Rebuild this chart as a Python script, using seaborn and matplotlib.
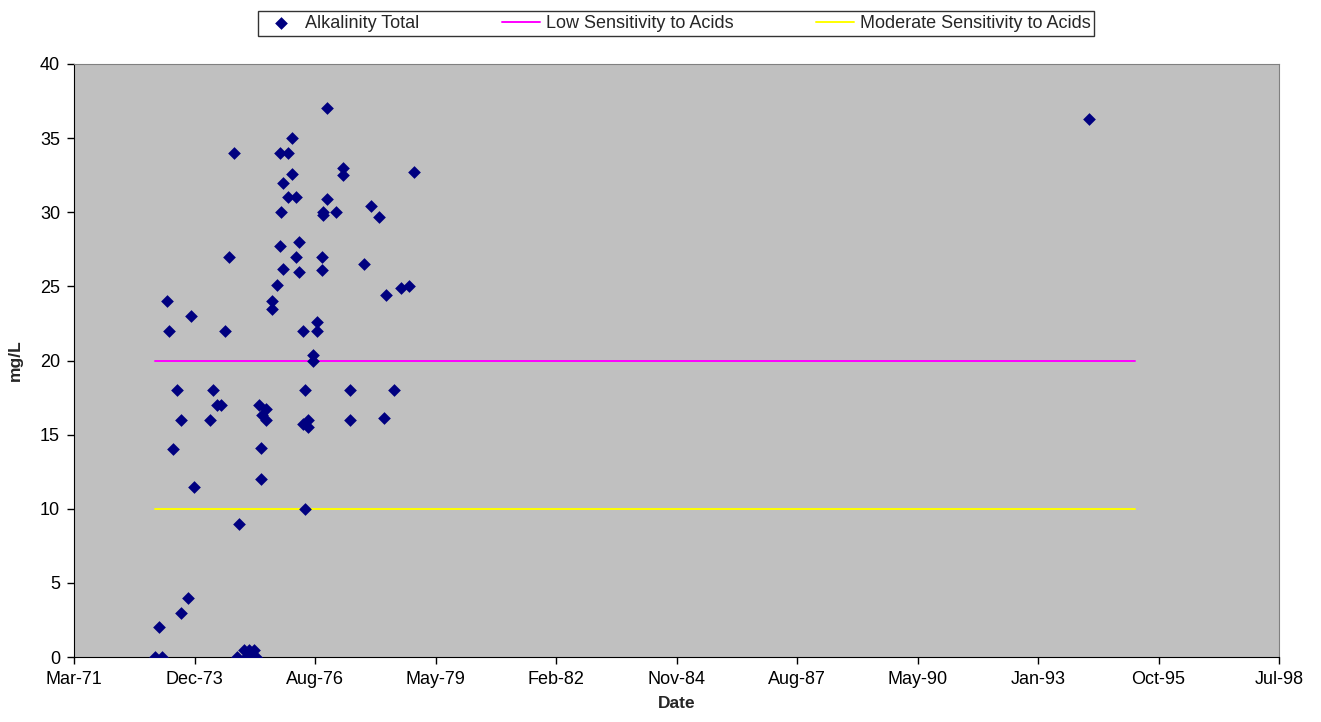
import pandas as pd
import numpy as np
import seaborn as sns
import matplotlib.pyplot as plt
import matplotlib.dates as mdates
from matplotlib.ticker import FixedLocator

# sample dates and total alkalinity (mg/L)
dates = ["1973-01-08", "1973-03-07", "1973-02-10", "1973-04-18", "1973-05-04",
         "1973-06-07", "1973-07-10", "1973-08-12", "1973-08-12", "1973-10-09",
         "1973-11-03", "1973-11-28", "1974-04-10", "1974-05-05", "1974-06-07",
         "1974-07-10", "1974-08-12", "1974-09-14", "1974-10-26", "1974-11-20",
         "1974-12-06", "1975-01-17", "1975-02-27", "1975-04-10", "1975-02-02",
         "1975-03-16", "1975-04-26", "1975-05-21", "1975-07-18", "1975-06-15",
         "1975-07-18", "1975-06-07", "1975-06-07", "1975-09-06", "1975-09-06",
         "1975-10-18", "1975-11-12", "1975-11-20", "1975-11-12", "1975-12-07",
         "1975-12-07", "1976-01-17", "1976-01-17", "1976-02-19", "1976-02-19",
         "1976-03-23", "1976-03-23", "1976-04-17", "1976-04-17", "1976-05-20",
         "1976-06-06", "1976-05-20", "1976-06-06", "1976-07-01", "1976-07-01",
         "1976-08-11", "1976-08-11", "1976-09-14", "1976-09-14", "1976-10-25",
         "1976-10-25", "1976-11-02", "1976-11-02", "1976-12-06", "1976-12-06",
         "1977-02-18", "1977-04-17", "1977-04-17", "1977-06-15", "1977-06-15",
         "1977-10-09", "1977-12-06", "1978-02-10", "1978-03-24", "1978-04-09",
         "1978-06-15", "1978-08-12", "1978-10-17", "1978-11-28", "1994-03-30"]
alkalinity = [0, 0, 2, 24, 22,
              14, 18, 16, 3, 4,
              23, 11.5, 16, 18, 17,
              17, 22, 27, 34, 0,
              9, 0.5, 0.5, 0.5, 0,
              0, 0, 17, 16.7, 16.3,
              16, 14.1, 12, 24, 23.5,
              25.1, 27.7, 30, 34, 32,
              26.2, 34, 31, 35, 32.6,
              31, 27, 28, 26, 22,
              18, 15.75, 10, 16, 15.5,
              20.4, 20, 22, 22.6, 27,
              26.1, 30, 29.8, 37, 30.9,
              30, 33, 32.5, 18, 16,
              26.5, 30.4, 29.7, 16.1, 24.4,
              18, 24.9, 25, 32.7, 36.3]

line_dates = ["1973-01-08", "1995-04-16"]
low_sens = [20, 20]
mod_sens = [10, 10]

x_ticks = pd.date_range("1971-03-08", periods=11, freq="1000D")

df = pd.DataFrame({"Date": pd.to_datetime(dates), "Alkalinity": alkalinity})
lines = pd.DataFrame({"Date": pd.to_datetime(line_dates),
                      "Low": low_sens, "Moderate": mod_sens})

sns.set_style("ticks")
plt.rcParams["font.family"] = ["Liberation Sans", "DejaVu Sans"]

fig = plt.figure(figsize=(13.21, 7.22), dpi=100)
ax = fig.add_axes([74 / 1321, 65 / 722, 1205 / 1321, 593 / 722])
ax.set_facecolor("#C0C0C0")

sns.scatterplot(data=df, x="Date", y="Alkalinity", marker="D", s=42,
                color="#000080", linewidth=0, ax=ax, label="Alkalinity Total",
                zorder=3)
sns.lineplot(data=lines, x="Date", y="Low", color="#FF00FF", linewidth=1.4,
             ax=ax, label="Low Sensitivity to Acids", zorder=2)
sns.lineplot(data=lines, x="Date", y="Moderate", color="#FFFF00", linewidth=1.4,
             ax=ax, label="Moderate Sensitivity to Acids", zorder=2)

ax.set_xlim(x_ticks[0], x_ticks[-1])
ax.set_ylim(0, 40)
ax.xaxis.set_major_locator(FixedLocator(mdates.date2num(x_ticks)))
ax.xaxis.set_major_formatter(mdates.DateFormatter("%b-%y"))
ax.set_yticks(np.arange(0, 41, 5))
ax.tick_params(labelsize=13, length=5, width=1, colors="black", pad=5)

for side in ["top", "right"]:
    ax.spines[side].set_visible(True)
    ax.spines[side].set_color("#808080")
for side in ["left", "bottom"]:
    ax.spines[side].set_color("black")

ax.set_xlabel("Date", fontsize=12.5, fontweight="bold", labelpad=6)
ax.set_ylabel("mg/L", fontsize=12.5, fontweight="bold", labelpad=12)

leg = ax.legend(loc="center", mode="expand",
                bbox_to_anchor=(258 / 1321, 1 - 38 / 722, 836 / 1321, 29 / 722),
                bbox_transform=fig.transFigure, ncol=3, fontsize=13,
                frameon=True, fancybox=False, borderpad=0.2, borderaxespad=0,
                columnspacing=3.0, handlelength=2.1, handletextpad=0.3)
leg.get_frame().set_edgecolor("black")
leg.get_frame().set_linewidth(1)

plt.savefig("out.png", dpi=100)
